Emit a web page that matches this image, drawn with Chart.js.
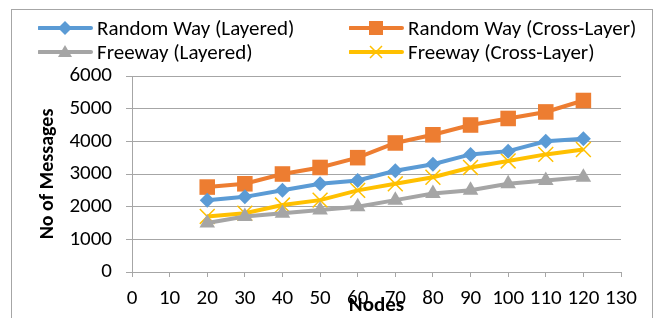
<!DOCTYPE html>
<html>
<head>
<meta charset="utf-8">
<script src="https://cdn.jsdelivr.net/npm/chart.js@4/dist/chart.umd.min.js"></script>
<style>
  html, body { margin: 0; padding: 0; background: #fff; }
  #wrap { position: relative; width: 655px; height: 318px; overflow: hidden; }
  #frame { position: absolute; left: 11px; top: 9px; width: 642px; height: 330px; border: 1px solid #a6a6a6; box-sizing: border-box; }
  canvas { position: absolute; left: 0; top: 0; }
  .leg { position: absolute; font-family: Carlito, Calibri, Lato, sans-serif; font-size: 21px; color: #000; white-space: nowrap; line-height: 24px; }
  .leg svg { position: absolute; left: 0; top: 0; }
  .leg span { position: absolute; top: 0; }
</style>
</head>
<body>
<div id="wrap">
  <div id="frame"></div>
  <canvas id="c" width="655" height="318"></canvas>
  <div id="legend"></div>
</div>
<script>
const nodes = [20, 30, 40, 50, 60, 70, 80, 90, 100, 110, 120];
const rwLayered = [2200, 2300, 2500, 2700, 2800, 3100, 3300, 3600, 3700, 4000, 4080];
const rwCross   = [2600, 2700, 3000, 3200, 3500, 3950, 4200, 4500, 4700, 4900, 5250];
const fwLayered = [1500, 1700, 1800, 1900, 2000, 2200, 2400, 2500, 2700, 2800, 2900];
const fwCross   = [1700, 1800, 2050, 2200, 2500, 2700, 2900, 3200, 3400, 3600, 3750];
const seriesNames = ['Random Way (Layered)', 'Random Way (Cross-Layer)', 'Freeway (Layered)', 'Freeway (Cross-Layer)'];
const xTicks = [0, 10, 20, 30, 40, 50, 60, 70, 80, 90, 100, 110, 120, 130];
const yTicks = [0, 1000, 2000, 3000, 4000, 5000, 6000];

const FONT = 'Carlito, Calibri, Lato, sans-serif';
const colors = ['#5B9BD5', '#ED7D31', '#A5A5A5', '#FFC000'];
const styles = [
  { pointStyle: 'rectRot', pointRadius: 7.5, pointBorderWidth: 0 },
  { pointStyle: 'rect', pointRadius: 11, pointBorderWidth: 0 },
  { pointStyle: 'triangle', pointRadius: 9, pointBorderWidth: 0 },
  { pointStyle: 'crossRot', pointRadius: 10.5, pointBorderWidth: 1.5 }
];
const values = [rwLayered, rwCross, fwLayered, fwCross];

const datasets = values.map((v, i) => ({
  label: seriesNames[i],
  data: nodes.map((n, k) => ({ x: n, y: v[k] })),
  borderColor: colors[i],
  backgroundColor: colors[i],
  pointBackgroundColor: colors[i],
  pointBorderColor: colors[i],
  borderWidth: 4,
  pointStyle: styles[i].pointStyle,
  pointRadius: styles[i].pointRadius,
  pointHoverRadius: styles[i].pointRadius,
  pointBorderWidth: styles[i].pointBorderWidth,
  tension: 0
}));

const gridCol = '#a6a6a6';
new Chart(document.getElementById('c'), {
  type: 'line',
  data: { datasets },
  options: {
    responsive: false,
    animation: false,
    events: [],
    layout: { padding: { left: 0, top: 76, right: 34, bottom: 0 } },
    plugins: { legend: { display: false }, tooltip: { enabled: false } },
    scales: {
      x: {
        type: 'linear', min: 0, max: 130,
        afterBuildTicks: s => { s.ticks = xTicks.map(v => ({ value: v })); },
        afterFit: s => { s.height = 46; },
        grid: { drawOnChartArea: false, drawTicks: true, tickLength: 5, color: gridCol, lineWidth: 1 },
        border: { color: gridCol, width: 1 },
        ticks: { font: { family: FONT, size: 21 }, color: '#000', padding: 9, maxRotation: 0, autoSkip: false, callback: v => String(v) },
        title: { display: true, text: 'Nodes', font: { family: FONT, size: 21, weight: 'bold' }, color: '#000', padding: { top: 0, bottom: 0 } }
      },
      y: {
        min: 0, max: 6000,
        afterBuildTicks: s => { s.ticks = yTicks.map(v => ({ value: v })); },
        afterFit: s => { s.width = 132; },
        grid: { color: gridCol, lineWidth: 1, drawTicks: true, tickLength: 6 },
        border: { color: gridCol, width: 1 },
        ticks: { font: { family: FONT, size: 21 }, color: '#000', padding: 14, callback: v => String(v) },
        title: { display: true, text: 'No of Messages', font: { family: FONT, size: 20, weight: 'bold' }, color: '#000', padding: { top: 36, bottom: 0 } }
      }
    }
  }
});

// HTML legend
const legPos = [
  { left: 38, top: 16 }, { left: 349, top: 16 },
  { left: 38, top: 40 }, { left: 349, top: 40 }
];
function markerSvg(i, c) {
  const cx = 27, cy = 12;
  if (i === 0) return `<polygon points="${cx},${cy-7} ${cx+7},${cy} ${cx},${cy+7} ${cx-7},${cy}" fill="${c}"/>`;
  if (i === 1) return `<rect x="${cx-7}" y="${cy-7}" width="14" height="14" fill="${c}"/>`;
  if (i === 2) return `<polygon points="${cx},${cy-7} ${cx+7},${cy+5} ${cx-7},${cy+5}" fill="${c}"/>`;
  return `<path d="M${cx-6},${cy-6} L${cx+6},${cy+6} M${cx+6},${cy-6} L${cx-6},${cy+6}" stroke="${c}" stroke-width="1.5"/>`;
}
const legend = document.getElementById('legend');
seriesNames.forEach((name, i) => {
  const d = document.createElement('div');
  d.className = 'leg';
  d.style.left = legPos[i].left + 'px';
  d.style.top = legPos[i].top + 'px';
  d.style.width = '300px';
  d.style.height = '24px';
  d.innerHTML = `<svg width="56" height="24"><line x1="1" y1="12" x2="53" y2="12" stroke="${colors[i]}" stroke-width="4" stroke-linecap="round"/>${markerSvg(i, colors[i])}</svg><span style="left:59px">${name}</span>`;
  legend.appendChild(d);
});
</script>
</body>
</html>
